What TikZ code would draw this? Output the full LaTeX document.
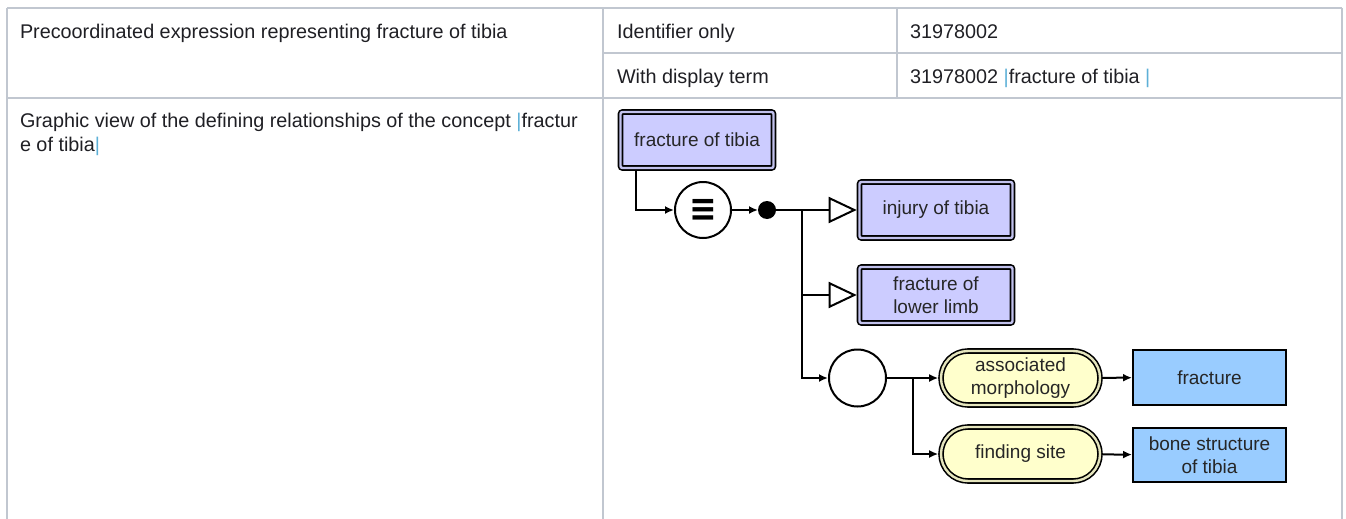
\documentclass[tikz,border=0pt]{standalone}
\usepackage{fontspec}
\usepackage{graphicx}
\setmainfont{Liberation Sans}
\newfontfamily\simbolo{DejaVu Sans}
\usetikzlibrary{arrows.meta,shapes.misc}

\definecolor{grade}{HTML}{C1C7D0}
\definecolor{texto}{HTML}{1F1F24}
\definecolor{barra}{HTML}{5DB0D7}
\definecolor{conceito}{HTML}{CCCCFF}
\definecolor{atributo}{HTML}{FFFFCC}
\definecolor{valor}{HTML}{99CCFF}
\newcommand{\barra}{{\color{barra}|}}

\begin{document}
\begin{tikzpicture}[
        x=1pt, y=-1pt,
        every node/.style = {inner sep=0pt, outer sep=0pt},
        celula/.style = {
            anchor=base west,
            text=texto,
            align=left,
            font=\fontsize{19.8}{24}\selectfont
        },
        linha/.style = {draw=grade, line width=2pt},
        conceito/.style = {
            shape=rectangle,
            rounded corners=2pt,
            draw, line width=1.6pt,
            double=conceito!85!gray, double distance=2.4pt,
            fill=conceito,
            outer sep=2.8pt,
            minimum width=153pt, minimum height=56pt,
            align=center,
            text=black!85,
            font=\fontsize{19}{23}\selectfont
        },
        atributo/.style = {
            shape=rounded rectangle,
            draw, line width=1.6pt,
            double=atributo!80!gray, double distance=2.4pt,
            fill=atributo,
            outer sep=2.8pt,
            minimum width=159pt, minimum height=54pt,
            align=center,
            text=black!85,
            font=\fontsize{19}{23}\selectfont
        },
        valor/.style = {
            shape=rectangle,
            draw, line width=2pt,
            fill=valor,
            outer sep=1pt,
            minimum width=153pt, minimum height=55pt,
            align=center,
            text=black!85,
            font=\fontsize{19}{23}\selectfont
        },
        estado/.style = {circle, draw, line width=2pt, minimum size=56pt, outer sep=1pt},
        ponto/.style = {circle, fill=black, minimum size=18pt},
        liga/.style = {draw, line width=2pt, -{Latex[length=9pt, width=8pt]}},
        isa/.style = {draw, line width=2pt, -{Triangle[open, length=28pt, width=26pt]}}
    ]

    \useasboundingbox (0,0) rectangle (1346,519);

    % TABELA
    \draw[linha] (7,8) -- (1342,8);
    \draw[linha] (603,53) -- (1342,53);
    \draw[linha] (7,98) -- (1342,98);
    \draw[linha] (7,8) -- (7,519);
    \draw[linha] (603,8) -- (603,519);
    \draw[linha] (897,8) -- (897,98);
    \draw[linha] (1342,8) -- (1342,519);

    \node[celula] (expr) at (20,38) {Precoordinated expression representing fracture of tibia};
    \node[celula] (ident) at (617,38) {Identifier only};
    \node[celula] (codigo) at (910,38) {31978002};
    \node[celula] (exibir) at (617,83) {With display term};
    \node[celula] (termo) at (910,83) {31978002 \barra fracture of tibia \barra};
    \node[celula] (grafico) at (20,151) {Graphic view of the defining relationships of the concept \barra fractur\\e of tibia\barra};

    % DIAGRAMA
    \node[conceito] (raiz) at (697,140) {fracture of tibia};
    \node[estado] (def) at (703,210) {\simbolo\bfseries\scalebox{1.1}[1.25]{\fontsize{30}{30}\selectfont ≡}};
    \node[ponto] (conj) at (767,210) {};
    \node[conceito] (lesao) at (936,210) {injury of tibia};
    \node[conceito] (fratmembro) at (936,295) {fracture of\\lower limb};
    \node[estado, minimum size=57pt] (grupo) at (857.5,378) {};
    \node[atributo] (morfologia) at (1020.5,378) {associated\\morphology};
    \node[atributo] (sitio) at (1020.5,454) {finding site};
    \node[valor] (fratura) at (1209.5,377.5) {fracture};
    \node[valor, minimum height=54pt] (osso) at (1209.5,455) {bone structure\\of tibia};

    \coordinate (barramento) at (802,210);
    \coordinate (ramo) at (913,378);

    % LIGACOES
    \draw[liga] ([xshift=18.5pt]raiz.south west) |- (def);
    \draw[liga] (def) -- (conj);
    \draw[isa] (conj) -- (lesao);
    \draw[isa] (barramento) |- (fratmembro);
    \draw[liga] (barramento) |- (grupo);
    \draw[liga] (grupo) -- (morfologia);
    \draw[liga] (ramo) |- (sitio);
    \draw[liga] (morfologia) -- (fratura);
    \draw[liga] (sitio) -- (osso);
\end{tikzpicture}
\end{document}
